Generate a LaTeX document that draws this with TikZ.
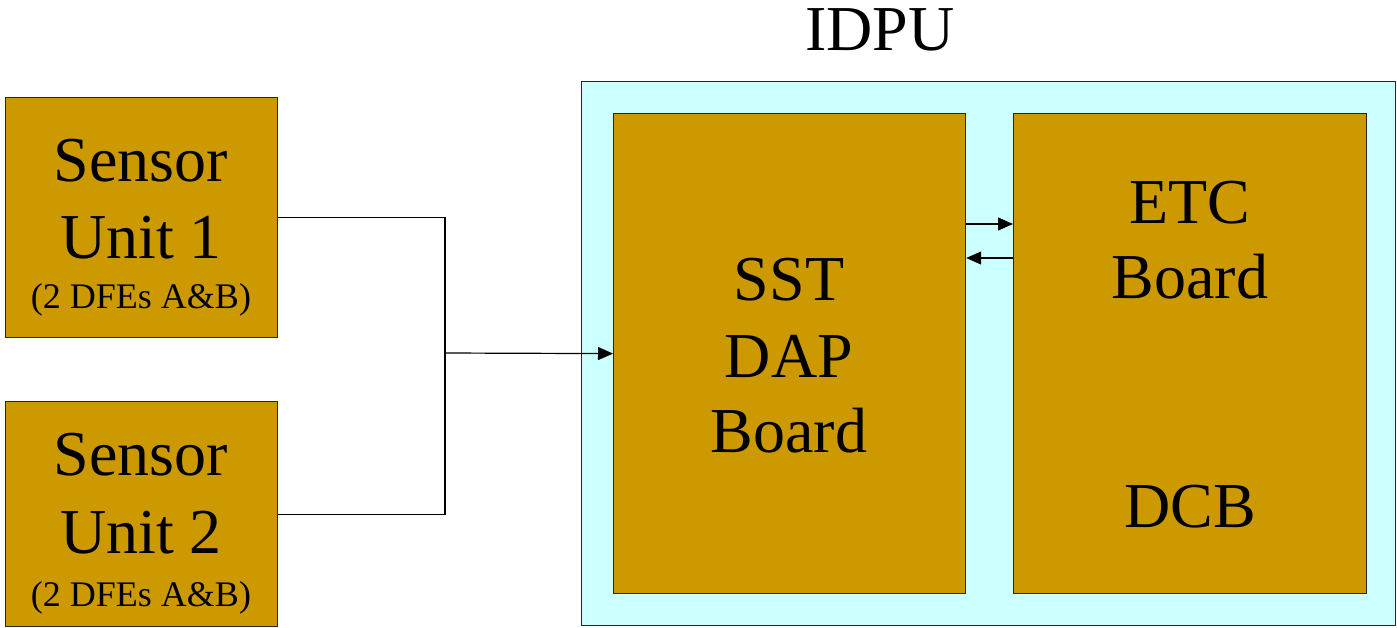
\documentclass[tikz,border=0pt]{standalone}
\usepackage{fontspec}
\setmainfont{Liberation Serif}
\newfontfamily\tnr{Liberation Serif}
\usetikzlibrary{arrows.meta}
\definecolor{gold}{HTML}{CC9900}
\definecolor{paleblue}{HTML}{CCFFFF}
\begin{document}
\begin{tikzpicture}[x=1pt,y=-1pt,
  box/.style={draw=black!85, fill=gold, line width=1.2pt, inner sep=0pt, anchor=north west},
  outerbox/.style={draw=black!85, fill=paleblue, line width=1.2pt, inner sep=0pt, anchor=north west},
  big/.style={anchor=base, inner sep=0pt, font=\tnr\fontsize{64}{74}\selectfont},
  small/.style={anchor=base, inner sep=0pt, font=\tnr\fontsize{36}{40}\selectfont},
  wire/.style={draw=black, line width=1.2pt},
  arr/.style={wire, -{Triangle[length=15pt,width=13pt]}}]
\useasboundingbox (0,0) rectangle (1397,627);
% boxes
\node[outerbox, minimum width=814pt, minimum height=544pt] (idpu) at (581,81) {};
\node[box, minimum width=272pt, minimum height=240pt] (s1) at (5,97) {};
\node[box, minimum width=272pt, minimum height=225pt] (s2) at (5,401) {};
\node[box, minimum width=352pt, minimum height=480pt] (sst) at (613,113) {};
\node[box, minimum width=353pt, minimum height=480pt] (etc) at (1013,113) {};
% texts
\node[big] (tidpu) at (880,50) {IDPU};
\node[big] (t1a) at (141,181) {Sensor};
\node[big] (t1b) at (141,258) {Unit 1};
\node[small] (t1c) at (141,308) {(2 DFEs A\&B)};
\node[big] (t2a) at (141,475) {Sensor};
\node[big] (t2b) at (141,553) {Unit 2};
\node[small] (t2c) at (141,606) {(2 DFEs A\&B)};
\node[big] (tsa) at (789,300) {SST};
\node[big] (tsb) at (789,377) {DAP};
\node[big] (tsc) at (789,452) {Board};
\node[big] (tea) at (1190,223) {ETC};
\node[big] (teb) at (1190,298) {Board};
\node[big] (tec) at (1190,527) {DCB};
% connectors
\coordinate (jn) at (445,353);
\draw[wire] (s1.east) -| (jn);
\draw[wire] (s2.east) -| (jn);
\draw[arr] (jn) -- (sst.west);
\coordinate (r1) at (989,224);
\coordinate (r2) at (989,258);
\draw[arr] (sst.east |- r1) -- (etc.west |- r1);
\draw[arr] (etc.west |- r2) -- (sst.east |- r2);
\end{tikzpicture}
\end{document}
